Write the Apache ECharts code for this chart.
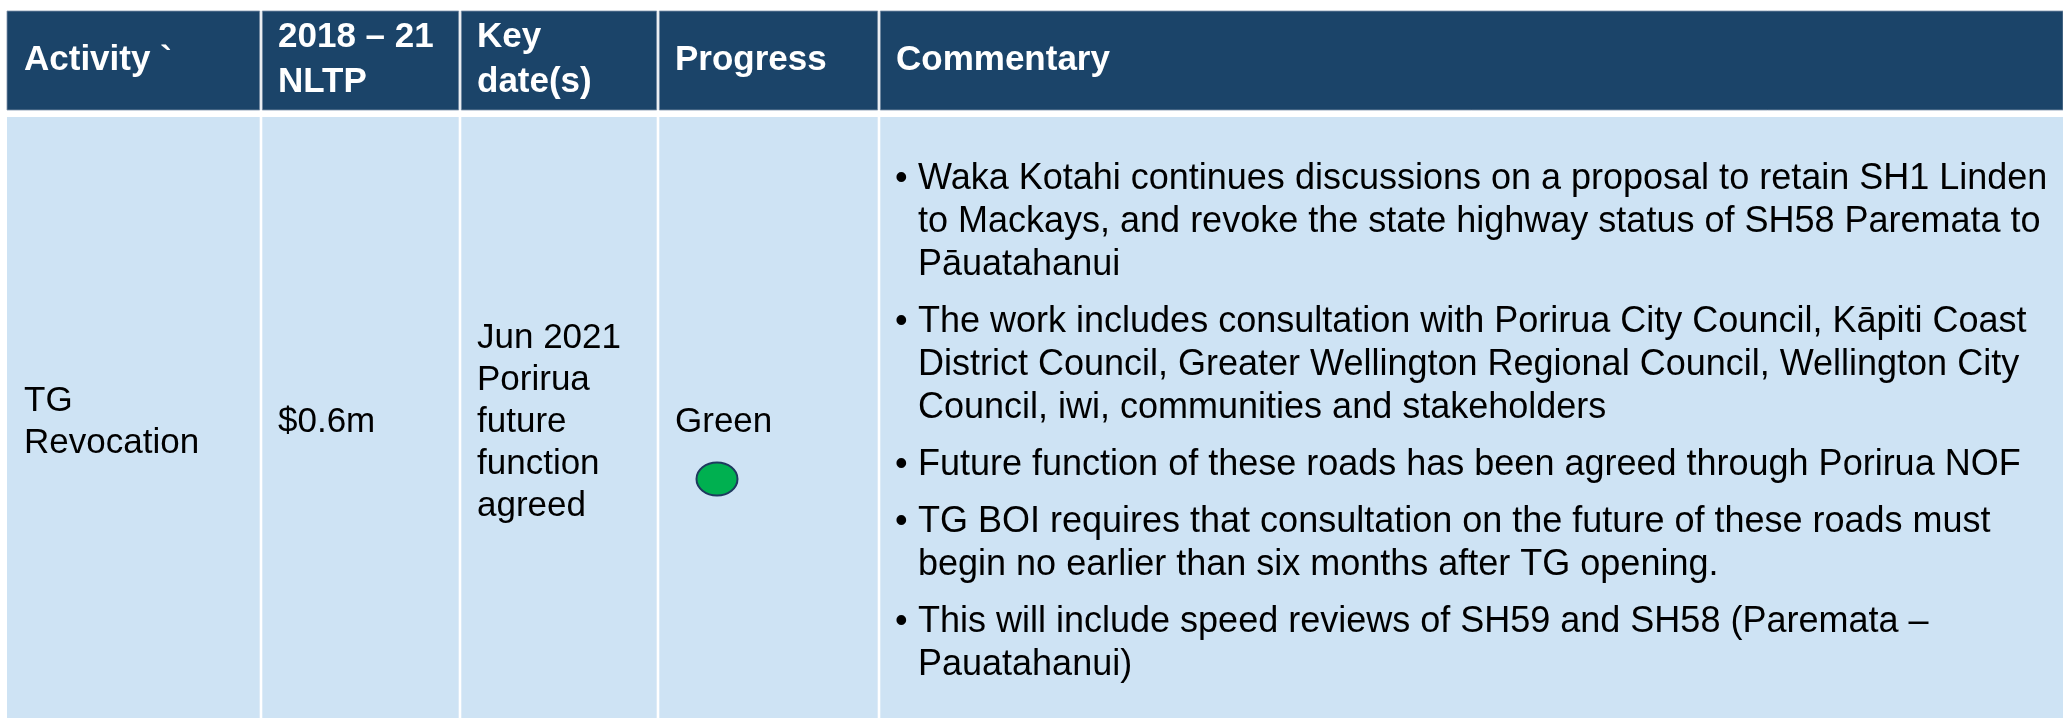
<!DOCTYPE html>
<html>
<head>
<meta charset="utf-8">
<script src="https://cdn.jsdelivr.net/npm/echarts@6/dist/echarts.min.js"></script>
<style>
  html, body { margin: 0; padding: 0; background: #fff; }
  #chart { width: 2063px; height: 718px; }
</style>
</head>
<body>
<div id="chart"></div>
<script>
// table content
const headers = ['Activity `', '2018 – 21\nNLTP', 'Key\ndate(s)', 'Progress', 'Commentary'];
const activity = 'TG\nRevocation';
const nltp = '$0.6m';
const keyDates = 'Jun 2021\nPorirua\nfuture\nfunction\nagreed';
const progress = 'Green';
const progressColor = '#00B050';
const commentary = [
    'Waka Kotahi continues discussions on a proposal to retain SH1 Linden\nto Mackays, and revoke the state highway status of SH58 Paremata to\nPāuatahanui',
    'The work includes consultation with Porirua City Council, Kāpiti Coast\nDistrict Council, Greater Wellington Regional Council, Wellington City\nCouncil, iwi, communities and stakeholders',
    'Future function of these roads has been agreed through Porirua NOF',
    'TG BOI requires that consultation on the future of these roads must\nbegin no earlier than six months after TG opening.',
    'This will include speed reviews of SH59 and SH58 (Paremata –\nPauatahanui)'
];
const rowCells = [activity, nltp, keyDates, progress, ''];

// layout (pixel units on hidden axes)
const colEdges = [7, 261, 460, 658, 879, 2063];
const GAP = 1.3;
const HEAD_TOP = 11, HEAD_BOTTOM = 110;
const BODY_TOP = 117, BODY_BOTTOM = 718;
const FONT = '"Liberation Sans", Arial, sans-serif';
const HEAD_COLOR = '#1B4469';
const BODY_COLOR = '#CEE3F4';

var chart = echarts.init(document.getElementById('chart'));

function renderCell(params, api) {
    const col = api.value(0);
    const row = api.value(1);
    const x0 = colEdges[col] + (col ? GAP : 0);
    const x1 = colEdges[col + 1] - (col < 4 ? GAP : 0);
    const y0 = row ? BODY_TOP : HEAD_TOP;
    const y1 = row ? BODY_BOTTOM : HEAD_BOTTOM;
    const p0 = api.coord([x0, y0]);
    const p1 = api.coord([x1, y1]);
    const children = [{
        type: 'rect',
        shape: { x: p0[0], y: p0[1], width: p1[0] - p0[0], height: p1[1] - p0[1] },
        style: row ? { fill: BODY_COLOR } : { fill: HEAD_COLOR, stroke: '#7F93AA', lineWidth: 0.8 }
    }];
    const text = row ? rowCells[col] : headers[col];
    if (text) {
        const c = api.coord([colEdges[col] + 17, row ? 422 : 60]);
        children.push({
            type: 'text',
            style: {
                text: text,
                x: c[0], y: c[1],
                fill: row ? '#000' : '#fff',
                fontFamily: FONT,
                fontSize: row ? 35 : 35,
                fontWeight: row ? 'normal' : 'bold',
                lineHeight: row ? 42 : 45,
                align: 'left',
                verticalAlign: 'middle'
            }
        });
    }
    if (row && col === 3) {
        const e = api.coord([717, 479]);
        children.push({
            type: 'ellipse',
            shape: { cx: e[0], cy: e[1], rx: 20.5, ry: 16.5 },
            style: { fill: progressColor, stroke: '#1F3A5F', lineWidth: 2 }
        });
    }
    return { type: 'group', children: children };
}

// line counts to stack the bullet paragraphs
const linesBefore = [];
commentary.reduce(function (acc, t, i) {
    linesBefore[i] = acc;
    return acc + t.split('\n').length;
}, 0);

function renderBullet(params, api) {
    const i = api.value(0);
    const top = 157.5 + 43 * linesBefore[i] + 14 * i;
    const b = api.coord([895, top]);
    const t = api.coord([918, top]);
    const base = { fill: '#000', fontFamily: FONT, fontSize: 36, lineHeight: 43, align: 'left', verticalAlign: 'top' };
    return {
        type: 'group',
        children: [
            { type: 'text', style: Object.assign({ text: '•', x: b[0], y: b[1] }, base) },
            { type: 'text', style: Object.assign({ text: commentary[i], x: t[0], y: t[1] }, base) }
        ]
    };
}

const cellData = [];
for (let r = 0; r < 2; r++) {
    for (let c = 0; c < headers.length; c++) cellData.push([c, r]);
}

const option = {
    animation: false,
    grid: { left: 0, right: 0, top: 0, bottom: 0 },
    xAxis: { type: 'value', min: 0, max: 2063, show: false },
    yAxis: { type: 'value', min: 0, max: 718, inverse: true, show: false },
    series: [
        {
            type: 'custom',
            renderItem: renderCell,
            data: cellData,
            clip: false,
            silent: true
        },
        {
            type: 'custom',
            renderItem: renderBullet,
            data: commentary.map(function (_, i) { return [i, 0]; }),
            clip: false,
            silent: true
        }
    ]
};

chart.setOption(option);
</script>
</body>
</html>
